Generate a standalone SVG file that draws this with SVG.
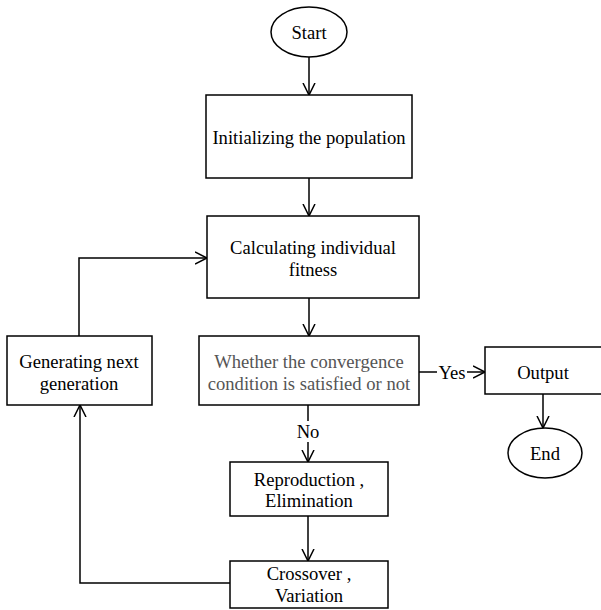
<svg xmlns="http://www.w3.org/2000/svg" width="601" height="610" viewBox="0 0 601 610">
<style>
.b{fill:#fff;stroke:#000;stroke-width:1.5}
.t{font-family:"Liberation Serif","Times New Roman",serif;font-size:18.6px;fill:#000;text-anchor:middle;dominant-baseline:central}
.g{fill:#555}
.c{fill:none;stroke:#000;stroke-width:1.5}
</style>
<defs>
<marker id="a" viewBox="0 0 14 14" refX="12" refY="7" markerWidth="14" markerHeight="14" markerUnits="userSpaceOnUse" orient="auto">
<path d="M0,1 L12,7 L0,13" fill="none" stroke="#000" stroke-width="1.5"/>
</marker>
</defs>
<rect width="601" height="610" fill="#fff"/>
<g id="connectors">
<line class="c" x1="309" y1="57" x2="309" y2="95" marker-end="url(#a)"/>
<line class="c" x1="309" y1="178" x2="309" y2="216" marker-end="url(#a)"/>
<line class="c" x1="309" y1="298" x2="309" y2="336" marker-end="url(#a)"/>
<polyline class="c" points="79,336 79,258 207,258" marker-end="url(#a)"/>
<line class="c" x1="419" y1="372" x2="437" y2="372"/>
<line class="c" x1="467" y1="372" x2="485" y2="372" marker-end="url(#a)"/>
<text class="t" x="452" y="372">Yes</text>
<line class="c" x1="543" y1="394" x2="543" y2="428" marker-end="url(#a)"/>
<line class="c" x1="308" y1="405" x2="308" y2="421"/>
<text class="t" x="308" y="431">No</text>
<line class="c" x1="308" y1="442" x2="308" y2="462" marker-end="url(#a)"/>
<line class="c" x1="308" y1="516" x2="308" y2="561" marker-end="url(#a)"/>
<polyline class="c" points="230,583 80,583 80,405" marker-end="url(#a)"/>
</g>
<g id="start">
<ellipse class="b" cx="309" cy="32" rx="38" ry="25"/>
<text class="t" x="309" y="32">Start</text>
</g>
<g id="init">
<rect class="b" x="206" y="95" width="206" height="83"/>
<text class="t" x="309" y="137">Initializing the population</text>
</g>
<g id="calc">
<rect class="b" x="207" y="216" width="212" height="82"/>
<text class="t" x="313" y="247">Calculating individual</text>
<text class="t" x="313" y="269">fitness</text>
</g>
<g id="converge">
<rect class="b" x="199" y="336" width="220" height="69"/>
<text class="t g" x="309" y="361">Whether the convergence</text>
<text class="t g" x="309" y="383">condition is satisfied or not</text>
</g>
<g id="generate">
<rect class="b" x="7" y="336" width="145" height="69"/>
<text class="t" x="79" y="361">Generating next</text>
<text class="t" x="79" y="383">generation</text>
</g>
<g id="output">
<rect class="b" x="485" y="347" width="130" height="47"/>
<text class="t" x="543" y="372">Output</text>
</g>
<g id="end">
<ellipse class="b" cx="545" cy="453" rx="37" ry="25"/>
<text class="t" x="545" y="453">End</text>
</g>
<g id="repro">
<rect class="b" x="230" y="462" width="158" height="54"/>
<text class="t" x="309" y="479">Reproduction ,</text>
<text class="t" x="309" y="500">Elimination</text>
</g>
<g id="cross">
<rect class="b" x="230" y="561" width="158" height="47"/>
<text class="t" x="309" y="573">Crossover ,</text>
<text class="t" x="309" y="595">Variation</text>
</g>
</svg>
